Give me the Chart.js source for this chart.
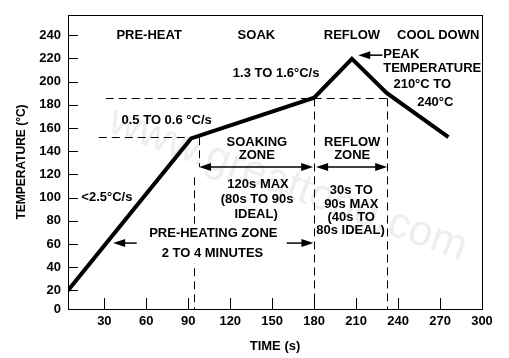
<!DOCTYPE html>
<html>
<head>
<meta charset="utf-8">
<script src="https://cdn.jsdelivr.net/npm/chart.js@4/dist/chart.umd.min.js"></script>
<style>
html,body{margin:0;padding:0;background:#fff;}
#wrap{width:509px;height:358px;position:relative;}
</style>
</head>
<body>
<div id="wrap"><canvas id="c" width="509" height="358"></canvas></div>
<script>
// ---- data ----
const timeS = [4, 92, 180, 207, 232, 276];
const tempC = [20, 151, 186, 219.5, 190, 152];
const xTicks = [30, 60, 90, 120, 150, 180, 210, 240, 270, 300];
const yTicks = [0, 20, 40, 60, 80, 100, 120, 140, 160, 180, 200, 220, 240];
const xRange = [4, 300];       // axis origin of the drawing is at about 4 s
const yRange = [4, 257.3];     // and about 4 °C (corner is labelled "0")
const xTitle = "TIME (s)";
const yTitle = "TEMPERATURE (°C)";

// annotation texts: [text, x(s), y(°C), align, whiteBox]
const notes = [
  ["PRE-HEAT", 62, 240],
  ["SOAK", 138.7, 240],
  ["REFLOW", 207, 240],
  ["COOL DOWN", 268.7, 240],
  ["1.3 TO 1.6°C/s", 152.8, 207],
  ["PEAK", 229.4, 223.6, "left"],
  ["TEMPERATURE", 229.4, 211.5, "left"],
  ["210°C TO", 257.3, 197.5],
  ["240°C", 266.6, 182.2],
  ["0.5 TO 0.6 °C/s", 74.5, 166.1],
  ["<2.5°C/s", 31.8, 100.5],
  ["SOAKING", 139, 147.4],
  ["ZONE", 139, 135.9],
  ["REFLOW", 207.2, 147.4],
  ["ZONE", 207.2, 135.9],
  ["120s MAX", 139.9, 111.4],
  ["(80s TO 90s", 139.2, 98.2],
  ["IDEAL)", 138.5, 85.3],
  ["30s TO", 206.5, 106.3],
  ["90s MAX", 206.5, 93.9],
  ["(40s TO", 206.5, 82.7],
  ["80s IDEAL)", 206, 71.3],
  ["PRE-HEATING ZONE", 107.9, 68.9, "center", true],
  ["2 TO 4 MINUTES", 107.3, 52.2, "center", true]
];
// dashed guide lines: horizontal [x1, x2, y], vertical [x, y1, y2]
const hGuides = [[26, 92, 152.3], [31, 232, 185.4]];
const vGuides = [[97.7, 152, 126.4], [94.3, 117.5, 4], [180, 185.4, 4], [232, 185.4, 4]];
// arrows [xFrom, xTo, y, doubleHeaded]
const arrows = [
  [97.7, 179.3, 126.4, true],
  [181.4, 232.2, 126.4, true],
  [53.1, 36.3, 60.8, false],
  [160.4, 179.5, 60.8, false],
  [228.8, 211.5, 222.7, false]
];
const watermark = "www.greattong.com";

const FONT = '"Liberation Sans", Arial, sans-serif';

function head(ctx, xTip, y, dir) {
  ctx.beginPath();
  ctx.moveTo(xTip, y);
  ctx.lineTo(xTip - dir * 12, y - 4);
  ctx.lineTo(xTip - dir * 12, y + 4);
  ctx.closePath();
  ctx.fill();
}

const deco = {
  id: 'deco',
  beforeDatasetsDraw(chart) {
    const ctx = chart.ctx, a = chart.chartArea;
    ctx.save();
    ctx.translate(a.left + 220, a.top + 170);
    ctx.rotate(20 * Math.PI / 180);
    ctx.font = '43px ' + FONT;
    ctx.fillStyle = '#eeeeee';
    ctx.textAlign = 'center';
    ctx.textBaseline = 'middle';
    ctx.fillText(watermark, 0, 0);
    ctx.restore();
  },
  afterDatasetsDraw(chart) {
    const ctx = chart.ctx, a = chart.chartArea;
    const xs = chart.scales.x, ys = chart.scales.y;
    const X = v => xs.getPixelForValue(v), Y = v => ys.getPixelForValue(v);
    ctx.save();
    // frame
    ctx.strokeStyle = '#000';
    ctx.lineWidth = 1;
    ctx.strokeRect(Math.round(a.left) + 0.5, Math.round(a.top) + 0.5, Math.round(a.right - a.left), Math.round(a.bottom - a.top));
    // inward ticks
    ctx.beginPath();
    ys.ticks.forEach(t => { if (t.value <= yRange[0]) return; const y = Math.round(Y(t.value)) + 0.5; ctx.moveTo(a.left, y); ctx.lineTo(a.left + 10, y); });
    xs.ticks.forEach(t => { if (t.value >= xRange[1]) return; const x = Math.round(X(t.value)) + 0.5; ctx.moveTo(x, a.bottom); ctx.lineTo(x, a.bottom - 11); });
    ctx.stroke();
    // dashed guides
    ctx.setLineDash([8, 5]);
    ctx.beginPath();
    hGuides.forEach(g => { const y = Math.round(Y(g[2])) + 0.5; ctx.moveTo(X(g[0]), y); ctx.lineTo(X(g[1]), y); });
    vGuides.forEach(g => { const x = Math.round(X(g[0])) + 0.5; ctx.moveTo(x, Y(g[1])); ctx.lineTo(x, Y(g[2])); });
    ctx.stroke();
    ctx.setLineDash([]);
    // white box behind boxed texts
    ctx.font = 'bold 13px ' + FONT;
    const boxed = notes.filter(n => n[4]);
    if (boxed.length) {
      let l = Infinity, r = -Infinity, t = Infinity, b = -Infinity;
      boxed.forEach(n => {
        const w = ctx.measureText(n[0]).width, cx = X(n[1]), cy = Y(n[2]);
        l = Math.min(l, cx - w / 2 - 4); r = Math.max(r, cx + w / 2 + 4);
        t = Math.min(t, cy - 10); b = Math.max(b, cy + 10);
      });
      ctx.fillStyle = '#fff';
      ctx.fillRect(l, t, r - l, b - t);
    }
    // arrows
    ctx.fillStyle = '#000';
    ctx.lineWidth = 1.5;
    arrows.forEach(ar => {
      const x1 = X(ar[0]), x2 = X(ar[1]), y = Y(ar[2]);
      const dir = Math.sign(x2 - x1);
      ctx.beginPath();
      ctx.moveTo(x1 + (ar[3] ? dir * 10 : 0), y);
      ctx.lineTo(x2 - dir * 10, y);
      ctx.stroke();
      head(ctx, x2, y, dir);
      if (ar[3]) head(ctx, x1, y, -dir);
    });
    // texts
    ctx.fillStyle = '#000';
    ctx.textBaseline = 'middle';
    notes.forEach(n => {
      ctx.textAlign = n[3] || 'center';
      ctx.fillText(n[0], X(n[1]), Y(n[2]));
    });
    ctx.restore();
  }
};

new Chart(document.getElementById('c'), {
  type: 'line',
  data: {
    datasets: [{
      data: timeS.map((t, i) => ({ x: t, y: tempC[i] })),
      borderColor: '#000',
      borderWidth: 4,
      borderJoinStyle: 'miter',
      pointRadius: 0,
      tension: 0,
      fill: false
    }]
  },
  options: {
    responsive: false,
    animation: false,
    devicePixelRatio: 1,
    layout: { padding: { top: 15, right: 27, left: 0, bottom: 0 } },
    plugins: { legend: { display: false }, tooltip: { enabled: false } },
    scales: {
      x: {
        type: 'linear', min: xRange[0], max: xRange[1],
        afterBuildTicks: s => { s.ticks = xTicks.map(v => ({ value: v })); },
        afterFit: s => { s.height = 49; },
        grid: { display: false, drawTicks: false },
        border: { display: false },
        ticks: { color: '#000', font: { family: FONT, size: 13, weight: 'bold' }, padding: 5, maxRotation: 0, autoSkip: false },
        title: { display: true, text: xTitle, color: '#000', font: { family: FONT, size: 13, weight: 'bold' }, padding: { top: 0, bottom: 4 } }
      },
      y: {
        type: 'linear', min: yRange[0], max: yRange[1],
        // the "0" label sits on the drawn origin corner
        afterBuildTicks: s => { s.ticks = yTicks.map(v => ({ value: Math.max(v, yRange[0]) })); },
        afterFit: s => { s.width = 68; },
        grid: { display: false, drawTicks: false },
        border: { display: false },
        ticks: {
          color: '#000', font: { family: FONT, size: 13, weight: 'bold' }, padding: 7, autoSkip: false,
          callback: (v, i) => String(yTicks[i])
        },
        title: { display: true, text: yTitle, color: '#000', font: { family: FONT, size: 12, weight: 'bold' }, padding: { top: 14, bottom: 0 } }
      }
    }
  },
  plugins: [deco]
});
</script>
</body>
</html>
